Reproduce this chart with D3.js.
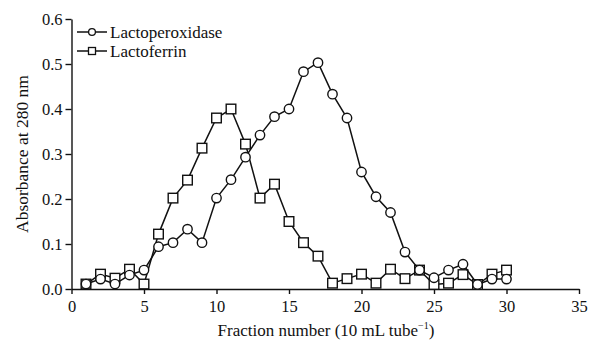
<!DOCTYPE html>
<html>
<head>
<meta charset="utf-8">
<script src="https://cdn.jsdelivr.net/npm/d3@7"></script>
<style>
  body { margin: 0; background: #fff; }
</style>
</head>
<body>
<div id="chart"></div>
<script>
// fraction numbers and absorbance readings
var fractions = d3.range(1, 31);
var lactoperoxidase = [0.011, 0.022, 0.011, 0.031, 0.042, 0.094, 0.103, 0.133, 0.103, 0.202,
                       0.243, 0.293, 0.342, 0.383, 0.40, 0.483, 0.503, 0.433, 0.38, 0.26,
                       0.205, 0.17, 0.082, 0.042, 0.025, 0.042, 0.055, 0.01, 0.022, 0.022];
var lactoferrin = [0.011, 0.033, 0.024, 0.044, 0.011, 0.122, 0.202, 0.242, 0.313, 0.38,
                   0.40, 0.322, 0.202, 0.233, 0.15, 0.103, 0.073, 0.013, 0.023, 0.033,
                   0.013, 0.044, 0.023, 0.042, 0.01, 0.013, 0.032, 0.01, 0.033, 0.042];
var xTicks = [0, 5, 10, 15, 20, 25, 30, 35];
var yTicks = [0, 0.1, 0.2, 0.3, 0.4, 0.5, 0.6];

var serif = "'Liberation Serif', 'Times New Roman', Times, serif";

(function() {
    var width = 591, height = 343;
    var svg = d3.select("#chart").append("svg")
        .attr("width", width)
        .attr("height", height)
        .style("font-family", serif);

    var x = d3.scaleLinear().domain([0, 35]).range([71.5, 579]);
    var y = d3.scaleLinear().domain([0, 0.6]).range([289, 19]);

    // axes
    var xAxis = svg.append("g")
        .attr("transform", "translate(0," + y(0) + ")")
        .call(d3.axisBottom(x).tickValues(xTicks).tickSize(5).tickSizeOuter(0).tickFormat(d3.format("d")));
    var yAxis = svg.append("g")
        .attr("transform", "translate(" + x(0) + ",0)")
        .call(d3.axisLeft(y).tickValues(yTicks).tickSize(6).tickSizeOuter(0).tickFormat(d3.format(".1f")));

    [xAxis, yAxis].forEach(function(g) {
        g.attr("font-family", null);
        g.select(".domain").attr("stroke", "#111").attr("stroke-width", 1.4);
        g.selectAll(".tick line").attr("stroke", "#111").attr("stroke-width", 1.4);
        g.selectAll(".tick text")
            .style("font-family", serif)
            .style("font-size", "16.5px")
            .attr("fill", "#111");
    });
    xAxis.selectAll(".tick text").attr("y", 23).attr("dy", 0);
    yAxis.selectAll(".tick text").attr("x", -9);

    // axis titles
    var xt = svg.append("text")
        .attr("x", 326).attr("y", 336)
        .attr("text-anchor", "middle")
        .attr("fill", "#111")
        .style("font-family", serif)
        .style("font-size", "17px");
    xt.append("tspan").text("Fraction number (10 mL tube");
    xt.append("tspan").attr("dy", -7).style("font-size", "10px").text("\u22121");
    xt.append("tspan").attr("dy", 7).text(")");

    svg.append("text")
        .attr("transform", "translate(28," + y(0.3) + ") rotate(-90)")
        .attr("text-anchor", "middle")
        .attr("fill", "#111")
        .style("font-family", serif)
        .style("font-size", "17.5px")
        .text("Absorbance at 280 nm");

    var line = d3.line()
        .x(function(d, i) { return x(fractions[i]); })
        .y(function(d) { return y(d); });

    function drawSeries(vals, shape) {
        svg.append("path")
            .datum(vals)
            .attr("d", line)
            .attr("fill", "none")
            .attr("stroke", "#111")
            .attr("stroke-width", 1.5);
        drawMarkers(vals.map(function(v, i) { return [x(fractions[i]), y(v)]; }), shape);
    }

    function drawMarkers(pts, shape) {
        if (shape === "circle") {
            svg.selectAll(null).data(pts).enter().append("circle")
                .attr("cx", function(d) { return d[0]; })
                .attr("cy", function(d) { return d[1]; })
                .attr("r", 4.7)
                .attr("fill", "#fff").attr("stroke", "#111").attr("stroke-width", 1.4);
        } else {
            svg.selectAll(null).data(pts).enter().append("rect")
                .attr("x", function(d) { return d[0] - 4.8; })
                .attr("y", function(d) { return d[1] - 4.8; })
                .attr("width", 9.6).attr("height", 9.6)
                .attr("fill", "#fff").attr("stroke", "#111").attr("stroke-width", 1.4);
        }
    }

    drawSeries(lactoferrin, "square");
    drawSeries(lactoperoxidase, "circle");

    // legend
    var legend = [{name: "Lactoperoxidase", shape: "circle"}, {name: "Lactoferrin", shape: "square"}];
    legend.forEach(function(d, i) {
        var ly = 32 + i * 19;
        svg.append("line")
            .attr("x1", 77).attr("x2", 107)
            .attr("y1", ly).attr("y2", ly)
            .attr("stroke", "#111").attr("stroke-width", 1.5);
        if (d.shape === "circle") {
            svg.append("circle").attr("cx", 92).attr("cy", ly).attr("r", 3.4)
                .attr("fill", "#fff").attr("stroke", "#111").attr("stroke-width", 1.3);
        } else {
            svg.append("rect").attr("x", 88.5).attr("y", ly - 3.5).attr("width", 7).attr("height", 7)
                .attr("fill", "#fff").attr("stroke", "#111").attr("stroke-width", 1.3);
        }
        svg.append("text")
            .attr("x", 110).attr("y", ly + 5.5)
            .attr("fill", "#111")
            .style("font-family", serif)
            .style("font-size", "17px")
            .text(d.name);
    });
})();
</script>
</body>
</html>
